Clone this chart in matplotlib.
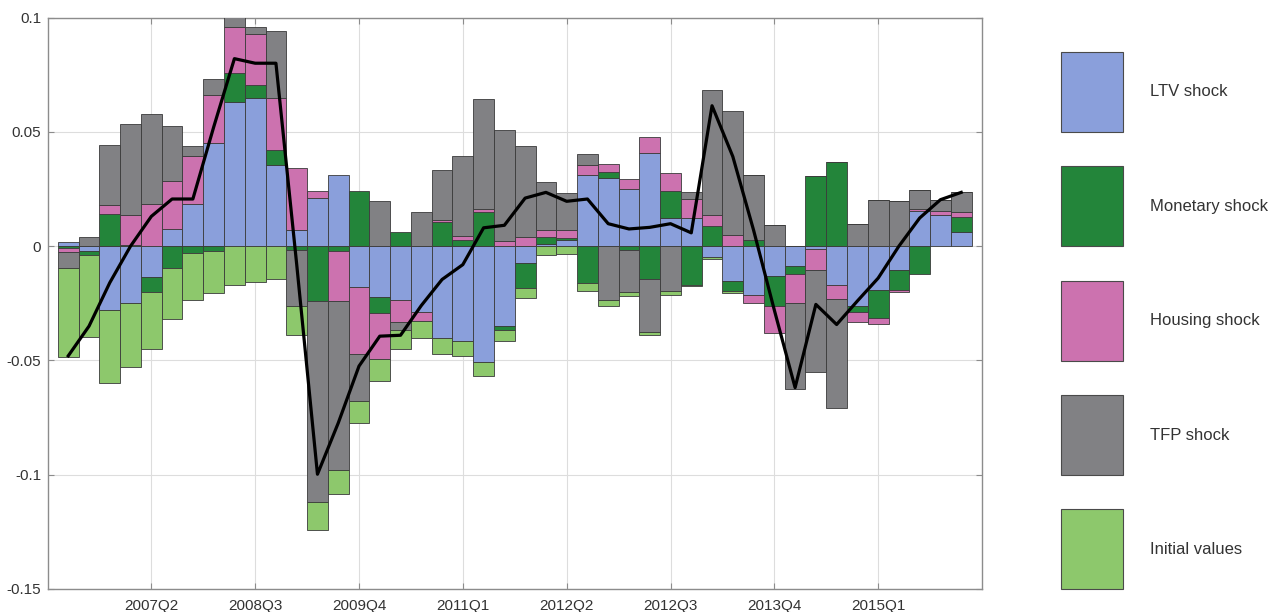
import numpy as np
import matplotlib
matplotlib.use("Agg")
import matplotlib.pyplot as plt
from matplotlib.patches import Rectangle

plt.rcParams['font.family'] = ['Liberation Sans', 'DejaVu Sans']

# ---------------- data ----------------
ltv = [0.002, -0.002, -0.028, -0.025, -0.0135, 0.0075, 0.0184, 0.0453, 0.0632, 0.0647,
       0.0356, 0.0069, 0.021, 0.0312, -0.0178, -0.0222, -0.0237, -0.0289, -0.0401, -0.0413,
       -0.0507, -0.035, -0.0073, 0.001, 0.0025, 0.0312, 0.0298, 0.025, 0.0407, 0.0123,
       0.0123, -0.0047, -0.0154, -0.0216, -0.0132, -0.0088, -0.0012, -0.0172, -0.026, -0.0193,
       -0.0106, 0.0152, 0.0138, 0.0062]
monetary = [-0.001, -0.002, 0.0141, 0.0005, -0.0067, -0.0095, -0.003, -0.002, 0.0124, 0.0058,
            0.0066, -0.0017, -0.024, -0.002, 0.0239, -0.007, 0.0062, 0.0, 0.0104, 0.0026,
            0.0149, -0.0015, -0.011, 0.003, 0.0012, -0.0161, 0.0025, -0.0015, -0.0146, 0.0117,
            -0.0168, 0.009, -0.0044, 0.0028, -0.0128, -0.0036, 0.0305, 0.0368, -0.0029, -0.0121,
            -0.0084, -0.0124, 0.0, 0.0065]
housing = [-0.0015, 0.0, 0.0038, 0.013, 0.0186, 0.0208, 0.0208, 0.0208, 0.0204, 0.0222,
           0.0226, 0.0272, 0.0033, -0.022, -0.0294, -0.0204, -0.0096, -0.0039, 0.001, 0.002,
           0.0013, 0.0021, 0.004, 0.0029, 0.0032, 0.0044, 0.0036, 0.0044, 0.007, 0.0078,
           0.0083, 0.0044, 0.005, -0.0032, -0.0122, -0.0127, -0.0093, -0.0061, -0.0044, -0.0025,
           -0.0009, 0.001, 0.0015, 0.0022]
tfp = [-0.007, 0.004, 0.0262, 0.0397, 0.0392, 0.0243, 0.0048, 0.007, 0.004, 0.003,
       0.0294, -0.0243, -0.0878, -0.074, -0.0204, 0.0196, -0.0035, 0.0149, 0.0218, 0.0346,
       0.0482, 0.0485, 0.0399, 0.0211, 0.0163, 0.0048, -0.0234, -0.0187, -0.023, -0.0197,
       0.0029, 0.0548, 0.0542, 0.0281, 0.0094, -0.0372, -0.0447, -0.0477, 0.0098, 0.0203,
       0.0196, 0.0083, 0.0048, 0.0086]
initial = [-0.039, -0.0356, -0.032, -0.028, -0.0247, -0.0223, -0.0204, -0.0187, -0.0172, -0.0158,
           -0.0143, -0.0127, -0.0124, -0.0106, -0.0099, -0.0095, -0.0081, -0.0073, -0.0073, -0.0066,
           -0.0061, -0.0051, -0.0044, -0.0041, -0.0036, -0.0036, -0.0026, -0.0017, -0.0015, -0.0015,
           -0.0008, -0.001, -0.0007, 0.0, 0.0, 0.0, 0.0, 0.0, 0.0, 0.0,
           0.0, 0.0, 0.0, 0.0]
total = [-0.048, -0.035, -0.016, 0.0, 0.013, 0.0206, 0.0206, 0.052, 0.082, 0.080,
         0.080, -0.008, -0.0998, -0.0774, -0.0525, -0.0394, -0.039, -0.026, -0.0146, -0.0081,
         0.008, 0.0091, 0.021, 0.0235, 0.0196, 0.0206, 0.0098, 0.0075, 0.0082, 0.0098,
         0.0058, 0.0614, 0.0392, 0.007, -0.028, -0.0619, -0.0255, -0.0343, -0.024, -0.014,
         0.0, 0.0123, 0.0203, 0.0235]

series_names = ['LTV shock', 'Monetary shock', 'Housing shock', 'TFP shock', 'Initial values']
colors = ['#8A9FDB', '#23853A', '#CC72AF', '#818184', '#8DC86C']
tick_pos = [4, 9, 14, 19, 24, 29, 34, 39]
tick_labels = ['2007Q2', '2008Q3', '2009Q4', '2011Q1', '2012Q2', '2012Q3', '2013Q4', '2015Q1']
y_ticks = [0.1, 0.05, 0, -0.05, -0.1, -0.15]
y_labels = ['0.1', '0.05', '0', '-0.05', '-0.1', '-0.15']

# ---------------- figure ----------------
W, H = 1272, 612
fig = plt.figure(figsize=(W / 100, H / 100), dpi=100)
ax = fig.add_axes([47.5 / W, 1 - 589 / H, (982 - 47.5) / W, (589 - 17.5) / H])

data = np.array([ltv, monetary, housing, tfp, initial])
x = np.arange(data.shape[1])
pos_bottom = np.zeros(len(x))
neg_bottom = np.zeros(len(x))
for vals, col, name in zip(data, colors, series_names):
    vals = np.asarray(vals)
    bottom = np.where(vals >= 0, pos_bottom, neg_bottom)
    ax.bar(x, vals, width=1.0, bottom=bottom, color=col, edgecolor='#3a3a3a',
           linewidth=0.6, label=name, zorder=3)
    pos_bottom = pos_bottom + np.where(vals >= 0, vals, 0)
    neg_bottom = neg_bottom + np.where(vals < 0, vals, 0)

ax.plot(x, total, color='black', linewidth=2.3, zorder=4)

ax.set_xlim(-1, 44)
ax.set_ylim(-0.15, 0.1)
ax.set_xticks(tick_pos)
ax.set_xticklabels(tick_labels)
ax.set_yticks(y_ticks)
ax.set_yticklabels(y_labels)
ax.grid(True, color='#dddddd', linewidth=0.8, zorder=0)
ax.set_axisbelow(True)
for s in ax.spines.values():
    s.set_color('#8c8c8c')
    s.set_linewidth(1.0)
ax.tick_params(axis='both', direction='in', length=4, width=0.8, color='#8c8c8c',
               labelsize=11, labelcolor='#333333', top=True, right=True)
ax.tick_params(axis='x', pad=7)
ax.tick_params(axis='y', pad=4.5)

# ---------------- legend (manual, to the right) ----------------
legend_tops = [52, 166, 281, 395, 509]
for name, col, top in zip(series_names, colors, legend_tops):
    r = Rectangle((1061 / W, 1 - (top + 80) / H), 62 / W, 80 / H,
                  transform=fig.transFigure, facecolor=col, edgecolor='#4a4a4a',
                  linewidth=0.8)
    fig.add_artist(r)
    fig.text(1150 / W, 1 - (top + 40) / H, name, ha='left', va='center',
             fontsize=12, color='#333333')

fig.savefig('out.png', dpi=100)
